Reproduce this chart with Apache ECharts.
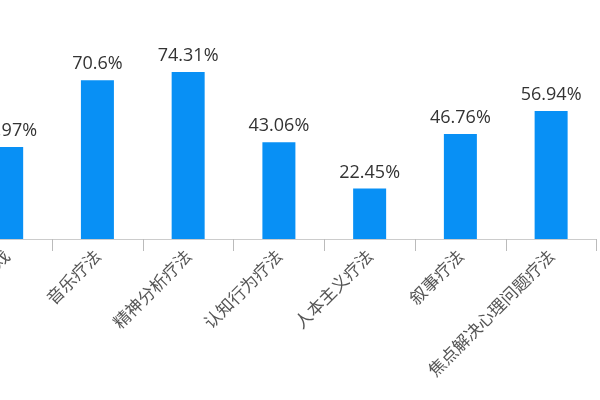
<!DOCTYPE html>
<html>
<head>
<meta charset="utf-8">
<script src="https://cdn.jsdelivr.net/npm/echarts@6/dist/echarts.min.js"></script>
<style>html,body{margin:0;padding:0;background:#fff;overflow:hidden;width:600px;height:400px;position:relative;}#main{position:absolute;top:0;left:-39px;width:639px;height:400px;}</style>
</head>
<body>
<div id="main"></div>
<script>
var categories = ['沙盘游戏', '音乐疗法', '精神分析疗法', '认知行为疗法', '人本主义疗法', '叙事疗法', '焦点解决心理问题疗法'];
var values = [40.97, 70.6, 74.31, 43.06, 22.45, 46.76, 56.94];

var chart = echarts.init(document.getElementById('main'));
chart.setOption({
  animation: false,
  backgroundColor: '#ffffff',
  grid: { left: 0.3, right: 3.5, top: 14.3, bottom: 161, containLabel: false, outerBoundsMode: 'none' },
  xAxis: {
    type: 'category',
    data: categories,
    axisLine: { lineStyle: { color: '#cccccc' } },
    axisTick: { show: true, length: 12, lineStyle: { color: '#bbbbbb' } },
    axisLabel: {
      rotate: 45,
      interval: 0,
      fontSize: 17,
      color: '#555555',
      margin: 14,
      fontFamily: 'Noto Sans CJK SC'
    }
  },
  yAxis: { type: 'value', min: 0, max: 100, show: false },
  series: [{
    type: 'bar',
    data: values,
    barWidth: 33,
    itemStyle: { color: '#0890F5' },
    label: {
      show: true,
      position: 'top',
      distance: 7,
      fontSize: 18,
      color: '#333333',
      fontFamily: 'Open Sans, Noto Sans CJK SC',
      formatter: function (p) { return p.value + '%'; }
    }
  }]
});
</script>
</body>
</html>
